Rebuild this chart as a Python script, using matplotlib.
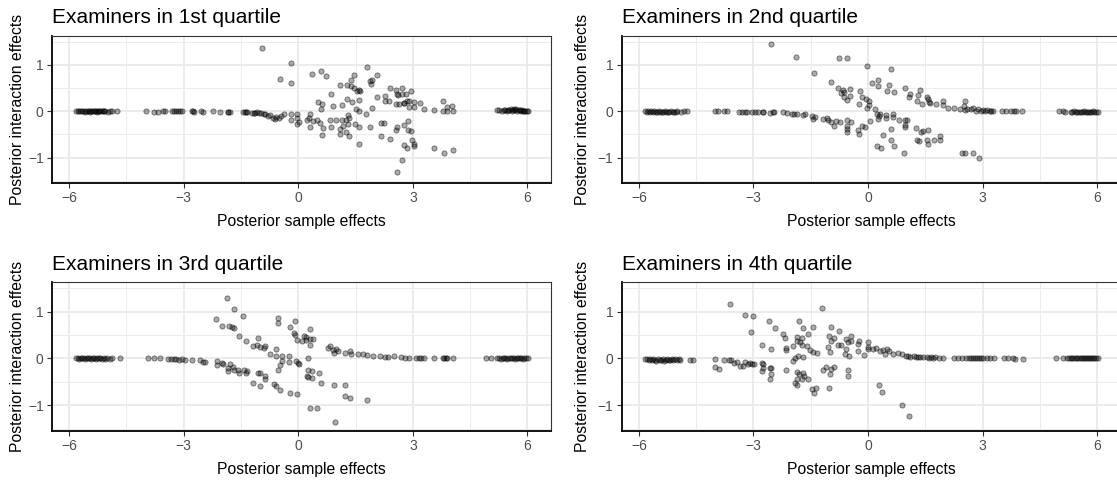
import matplotlib
matplotlib.use('Agg')
import matplotlib.pyplot as plt
from matplotlib.ticker import MultipleLocator

plt.rcParams['font.family'] = ['Liberation Sans', 'DejaVu Sans']

titles = ['Examiners in 1st quartile', 'Examiners in 2nd quartile',
          'Examiners in 3rd quartile', 'Examiners in 4th quartile']
x_label = 'Posterior sample effects'
y_label = 'Posterior interaction effects'

# ---------- 1st quartile ----------
q1_x = [
    # left cluster
    -5.83, -5.78, -5.74, -5.70, -5.66, -5.62, -5.58, -5.55, -5.52, -5.48,
    -5.45, -5.42, -5.39, -5.36, -5.33, -5.30, -5.27, -5.24, -5.21, -5.18,
    -5.15, -5.12, -5.09, -5.06, -4.99, -4.93, -4.87, -4.76,
    # along zero
    -4.00, -3.77, -3.68, -3.53, -3.50, -3.30, -3.25, -3.20, -3.15, -3.09,
    -3.04, -2.78, -2.75, -2.72, -2.55, -2.50, -2.22, -2.04, -1.85, -1.83,
    -1.80, -1.44, -1.40, -1.37, -1.34, -1.22, -1.17, -1.13, -1.08, -1.02,
    -0.98, -0.91, -0.86, -0.80, -0.73, -0.65, -0.60, -0.57, -0.51, -0.45,
    -0.38, -0.19, -0.03,
    # upper cloud
    -0.95, -0.19, -0.49, -0.19, 0.35, 0.59, 0.72, 1.80, 2.06, 1.46,
    1.37, 1.09, 1.27, 1.37, 1.45, 1.53, 1.60, 1.63, 1.91, 1.88,
    1.94, 2.06, 0.86, 0.53, 0.62, 0.59, 0.91, 1.14, 1.27, 1.40,
    1.60, 1.50, 1.60, 1.77, 1.94, 2.28, 2.39, 2.26, 2.38, 2.55,
    2.59, 2.71, 2.72, 2.82, 2.94, 2.55, 2.64, 2.76, 2.84, 2.91,
    3.04, 3.03, 3.19, 3.29, 3.55, 3.80, 3.80, 3.89, 3.89, 4.04,
    4.05, 2.91, 2.78, 2.60,
    # lower cloud
    -0.19, -0.02, -0.03, 0.03, 0.30, 0.27, 0.23, 0.31, 0.39, 0.49,
    0.58, 0.64, 0.61, 0.84, 0.86, 0.99, 1.10, 1.16, 1.09, 1.15,
    1.25, 1.30, 1.32, 1.29, 1.26, 1.34, 1.49, 1.59, 1.60, 1.87,
    2.16, 2.25, 2.16, 2.40, 2.56, 2.59, 2.76, 2.87, 2.88, 2.95,
    2.97, 3.02, 3.04, 2.78, 2.86, 3.55, 3.82, 4.05, 2.72, 2.58,
    # right cluster
    5.20, 5.27, 5.33, 5.38, 5.42, 5.46, 5.50, 5.53, 5.56, 5.59,
    5.62, 5.65, 5.68, 5.71, 5.74, 5.77, 5.80, 5.83, 5.86, 5.89,
    5.92, 5.95, 5.98, 6.02,
]
q1_y = [
    0.00, 0.00, 0.00, 0.00, 0.00, 0.00, -0.01, 0.00, 0.00, 0.00,
    -0.01, 0.00, 0.00, 0.00, 0.00, 0.00, -0.01, 0.00, 0.00, 0.00,
    0.00, 0.00, 0.00, 0.00, -0.01, 0.00, 0.00, 0.00,
    0.00, -0.01, -0.01, 0.01, 0.00, 0.00, 0.00, 0.00, 0.00, 0.00,
    0.00, 0.00, 0.00, -0.01, 0.00, -0.01, 0.00, -0.01, -0.01, -0.02,
    -0.02, -0.02, -0.02, -0.01, -0.01, -0.03, -0.03, -0.03, -0.02, -0.03,
    -0.03, -0.05, -0.06, -0.10, -0.09, -0.14, -0.16, -0.12, -0.14, -0.11,
    -0.05, -0.05, -0.05,
    1.36, 1.04, 0.70, 0.61, 0.80, 0.87, 0.76, 0.96, 0.78, 0.77,
    0.68, 0.57, 0.57, 0.55, 0.50, 0.43, 0.45, 0.43, 0.59, 0.66,
    0.68, 0.30, 0.36, 0.20, 0.15, 0.05, 0.12, 0.14, 0.26, 0.19,
    0.25, 0.05, 0.00, -0.07, 0.07, 0.33, 0.50, 0.22, 0.23, 0.46,
    0.37, 0.50, 0.37, 0.36, 0.43, 0.15, 0.16, 0.17, 0.21, 0.23,
    0.20, 0.10, 0.18, 0.05, 0.03, 0.23, 0.01, 0.01, 0.10, 0.12,
    0.01, 0.08, 0.18, 0.35,
    -0.20, -0.15, -0.28, -0.24, -0.07, -0.14, -0.20, -0.33, -0.21, -0.20,
    -0.26, -0.36, -0.52, -0.20, -0.34, -0.18, -0.39, -0.32, -0.49, -0.18,
    -0.20, -0.08, -0.14, -0.27, -0.45, -0.54, -0.27, -0.34, -0.71, -0.35,
    -0.25, -0.25, -0.54, -0.59, -0.40, -0.35, -0.30, -0.22, -0.41, -0.43,
    -0.62, -0.70, -0.75, -0.72, -0.80, -0.80, -0.91, -0.84, -1.05, -1.32,
    0.02, 0.02, 0.01, 0.02, 0.03, 0.01, 0.03, 0.02, 0.04, 0.01,
    0.03, 0.05, 0.02, 0.04, 0.01, 0.03, 0.02, 0.01, 0.02, 0.00,
    0.01, 0.00, 0.00, 0.00,
]

# ---------- 2nd quartile ----------
q2_x = [
    -5.85, -5.80, -5.76, -5.72, -5.68, -5.64, -5.60, -5.56, -5.52, -5.48,
    -5.44, -5.40, -5.36, -5.32, -5.28, -5.24, -5.20, -5.16, -5.12, -5.08,
    -5.04, -5.00, -4.90, -4.82, -4.73,
    -4.02, -3.93, -3.76, -3.69, -3.38, -3.29, -3.23, -3.16, -3.05, -2.97,
    -2.89, -2.76, -2.74, -2.57, -2.50, -2.46, -2.22, -2.13, -2.00, -1.95,
    -1.85, -1.71, -1.66, -1.46, -1.43, -1.40,
    # upper cloud
    -2.54, -1.89, -0.75, -0.54, -1.41, -0.98, -0.80, -0.66, -0.64, -0.48,
    -0.72, -0.62, -0.48, -0.54, -0.22, -0.16, -0.06, 0.02, 0.02, -0.25,
    -0.03, -0.02, 0.60, 0.11, 0.25, 0.26, 0.56, 0.50, 0.68, 0.96,
    1.09, 1.08, 1.36, 1.30, 1.55, 1.58, 1.60, 1.28, 1.41, 1.63,
    1.79, 1.96, 1.97,
    # lower cloud
    -1.18, -1.08, -1.04, -0.97, -0.89, -0.83, -0.73, -0.54, -0.46, -0.55,
    -0.54, -0.54, -0.26, -0.25, -0.16, -0.09, 0.04, 0.19, 0.24, 0.28,
    0.26, 0.32, 0.46, 0.46, 0.65, 0.66, 0.81, 0.96, 1.03, 0.96,
    0.96, 1.25, 1.39, 1.45, 1.58, 0.59, 0.59, 0.39, 0.68, 0.24,
    0.35, 0.94, 1.29, 1.34, 1.55, 1.57, 1.73, 1.89, 1.89, 2.46,
    2.54, 2.75, 2.89,
    # right arm along zero
    2.10, 2.25, 2.40, 2.54, 2.52, 2.54, 2.60, 2.69, 2.75, 2.82,
    2.88, 2.96, 3.00, 3.06, 3.12, 3.18, 3.22, 3.28, 3.51, 3.62,
    3.75, 3.82, 3.86, 4.02,
    # right cluster
    5.01, 5.10, 5.16, 5.30, 5.35, 5.40, 5.44, 5.48, 5.52, 5.56,
    5.60, 5.64, 5.68, 5.72, 5.76, 5.80, 5.84, 5.88, 5.92, 5.96,
    6.02,
]
q2_y = [
    0.00, -0.01, 0.00, -0.01, 0.00, -0.01, 0.00, -0.01, -0.01, 0.00,
    -0.01, -0.02, -0.01, 0.00, -0.01, -0.02, -0.01, 0.00, -0.01, -0.02,
    -0.01, 0.00, -0.01, 0.00, 0.00,
    0.00, 0.00, 0.00, 0.00, -0.01, -0.01, -0.01, -0.01, -0.02, -0.01,
    -0.02, -0.02, -0.02, -0.03, -0.02, -0.02, -0.02, -0.04, -0.06, -0.05,
    -0.06, -0.08, -0.07, -0.11, -0.16, -0.12,
    1.44, 1.16, 1.14, 1.14, 0.82, 0.62, 0.50, 0.45, 0.41, 0.47,
    0.39, 0.31, 0.33, 0.24, 0.43, 0.31, 0.26, 0.23, 0.14, 0.16,
    0.06, 0.98, 0.91, 0.61, 0.67, 0.54, 0.57, 0.44, 0.42, 0.50,
    0.36, 0.31, 0.46, 0.35, 0.31, 0.26, 0.19, 0.21, 0.16, 0.17,
    0.16, 0.21, 0.14,
    -0.16, -0.14, -0.20, -0.24, -0.31, -0.21, -0.24, -0.20, -0.24, -0.31,
    -0.38, -0.44, -0.40, -0.49, -0.31, -0.34, -0.21, 0.04, -0.06, -0.11,
    -0.16, -0.06, -0.09, -0.14, -0.07, -0.13, -0.20, -0.20, -0.18, -0.29,
    -0.34, -0.36, -0.44, -0.43, -0.40, -0.39, -0.61, -0.51, -0.74, -0.76,
    -0.80, -0.91, -0.63, -0.65, -0.61, -0.70, -0.63, -0.54, -0.63, -0.91,
    -0.91, -0.89, -1.00,
    0.07, 0.07, 0.05, 0.21, 0.11, 0.03, 0.05, 0.04, 0.06, 0.01,
    0.04, 0.01, 0.03, 0.01, 0.02, 0.01, 0.01, 0.01, 0.01, 0.00,
    0.00, 0.00, 0.00, 0.00,
    0.00, 0.00, -0.01, -0.01, -0.01, 0.00, -0.01, -0.01, -0.01, -0.01,
    -0.01, 0.00, -0.01, -0.01, -0.01, -0.01, -0.01, 0.00, -0.01, -0.01,
    -0.01,
]

# ---------- 3rd quartile ----------
q3_x = [
    -5.83, -5.78, -5.74, -5.70, -5.66, -5.62, -5.58, -5.54, -5.50, -5.46,
    -5.42, -5.38, -5.34, -5.30, -5.26, -5.22, -5.18, -5.14, -5.10, -5.05,
    -5.00, -4.94, -4.87, -4.67,
    -3.93, -3.77, -3.62, -3.40, -3.33, -3.26, -3.19, -3.12, -3.05, -2.97,
    -2.77, -2.57, -2.50, -2.44,
    # descending lower-left arm
    -2.13, -2.13, -2.00, -1.96, -1.84, -1.78, -1.83, -1.70, -1.68, -1.57,
    -1.54, -1.41, -1.37, -1.33, -1.06, -0.99, -0.88, -0.87, -1.19, -1.01,
    -0.64, -0.59, -0.48, -0.22, -0.03,
    # upper-left arm
    -1.86, -1.68, -1.44, -2.15, -2.00, -1.82, -1.74, -1.68, -1.56, -1.37,
    -1.05, -1.09, -1.19, -0.99, -0.87, -0.89, -0.74, -0.59, -0.58, -0.43,
    # centre
    -0.52, -0.52, -0.22, -0.09, -0.10, -0.08, -0.04, 0.14, 0.19, 0.09,
    0.20, 0.30, 0.38, 0.30, 0.30, 0.26, -0.54, -0.49, -0.43, -0.24,
    -0.23, -0.06, 0.00, 0.03, 0.25, 0.24, 0.26, 0.37, 0.37, 0.54,
    0.59, 0.93, 1.22, 1.22, 1.35, 1.79, 0.30, 0.49, 0.96,
    # right arm
    0.77, 0.83, 0.90, 0.93, 1.04, 0.98, 1.22, 1.36, 1.37, 1.57,
    1.70, 1.81, 1.96, 2.13, 2.26, 2.35, 2.52, 2.70, 2.80, 2.91,
    3.09, 3.15, 3.22, 3.30, 3.55, 3.78, 3.82, 3.86, 3.90, 4.05,
    # right cluster
    4.92, 5.05, 5.20, 5.25, 5.30, 5.35, 5.40, 5.44, 5.48, 5.52,
    5.56, 5.60, 5.64, 5.68, 5.72, 5.76, 5.80, 5.84, 5.88, 5.92,
    5.96, 6.02,
]
q3_y = [
    0.00, 0.00, -0.01, 0.00, 0.00, 0.00, -0.01, 0.00, 0.00, 0.00,
    -0.01, 0.00, 0.00, -0.01, 0.00, 0.00, 0.00, -0.01, 0.00, -0.01,
    0.00, -0.01, 0.00, 0.00,
    0.00, 0.00, 0.00, -0.01, -0.02, -0.01, -0.02, -0.03, -0.02, -0.03,
    -0.04, -0.04, -0.08, -0.08,
    -0.06, -0.15, -0.09, -0.13, -0.20, -0.13, -0.27, -0.18, -0.25, -0.24,
    -0.32, -0.24, -0.31, -0.28, -0.31, -0.32, -0.37, -0.45, -0.52, -0.60,
    -0.54, -0.60, -0.67, -0.74, -0.77,
    1.28, 1.05, 0.90, 0.85, 0.70, 0.70, 0.67, 0.64, 0.47, 0.36,
    0.44, 0.29, 0.27, 0.25, 0.27, 0.22, 0.09, 0.20, 0.04, 0.06,
    0.86, 0.75, 0.67, 0.79, 0.55, 0.50, 0.40, 0.48, 0.46, 0.38,
    0.39, 0.41, 0.42, 0.62, 0.29, 0.00, -0.25, -0.14, -0.06, -0.07,
    0.05, -0.05, -0.09, -0.13, -0.24, -0.37, -0.40, -0.27, -0.42, -0.32,
    -0.52, -0.57, -0.57, -0.81, -0.85, -0.89, -1.05, -1.05, -1.36,
    0.23, 0.27, 0.17, 0.11, 0.15, 0.21, 0.11, 0.16, 0.09, 0.09,
    0.09, 0.07, 0.06, 0.04, 0.02, 0.02, 0.04, 0.02, 0.01, 0.01,
    0.01, 0.01, 0.01, 0.01, 0.01, 0.00, 0.00, 0.00, 0.00, 0.00,
    0.01, 0.00, 0.00, 0.00, -0.01, 0.00, 0.00, 0.00, -0.01, 0.00,
    0.00, 0.00, 0.00, -0.01, 0.00, 0.00, 0.00, 0.00, -0.01, 0.00,
    0.00, 0.00,
]

# ---------- 4th quartile ----------
q4_x = [
    -5.83, -5.78, -5.74, -5.70, -5.66, -5.62, -5.58, -5.54, -5.50, -5.46,
    -5.42, -5.38, -5.34, -5.30, -5.26, -5.22, -5.18, -5.14, -5.10, -5.05,
    -5.00, -4.96, -4.92, -4.67, -4.59,
    # left part of band
    -4.00, -4.00, -3.91, -3.77, -3.65, -3.59, -3.52, -3.42, -3.35, -3.28,
    -3.22, -3.15, -3.09, -3.04, -2.98, -2.78, -2.76, -2.78, -2.74, -2.58,
    -2.54, -2.55, -2.58, -2.15, -1.85, -1.80, -1.70, -1.74, -1.68, -1.57,
    -1.85, -1.91, -1.87, -1.46, -1.37, -1.41, -1.02, -1.17, -1.09, -0.98,
    -0.90, -1.00, -0.52, -0.52, -1.97, -1.91, -1.83, -1.70,
    # upper cloud
    -3.61, -3.22, -3.00, -3.06, -2.59, -2.45, -2.22, -2.17, -2.77, -2.54,
    -1.80, -1.70, -1.57, -1.43, -1.85, -1.85, -1.78, -1.74, -1.97, -2.15,
    -2.15, -1.74, -1.61, -1.52, -1.43, -1.35, -1.20, -0.98, -0.76, -1.02,
    -0.90, -0.96, -1.04, -1.00, -0.78, -0.71, -0.57, -0.45, -0.52, -0.46,
    -0.57, -0.61, -0.50, -0.24, -0.26, -0.26, 0.00, 0.00, 0.00, -0.11,
    0.13, 0.20, 0.30, 0.39, 0.50, 0.55, 0.43, 0.65, 0.78, 0.89,
    # lower right outliers
    0.28, 0.37, 0.89, 1.07,
    # right arm
    1.00, 1.05, 1.10, 1.20, 1.25, 1.30, 1.35, 1.45, 1.55, 1.60,
    1.65, 1.70, 1.75, 1.85, 1.95, 2.25, 2.35, 2.45, 2.55, 2.65,
    2.70, 2.75, 2.80, 2.85, 2.90, 2.95, 3.00, 3.10, 3.20, 3.30,
    3.55, 3.65, 3.80, 3.85, 4.05,
    # right cluster
    4.92, 5.10, 5.20, 5.25, 5.30, 5.35, 5.40, 5.44, 5.48, 5.52,
    5.56, 5.60, 5.64, 5.68, 5.72, 5.76, 5.80, 5.84, 5.88, 5.92,
    5.96, 6.02,
]
q4_y = [
    -0.02, -0.01, -0.03, -0.02, -0.04, -0.02, -0.03, -0.05, -0.02, -0.03,
    -0.04, -0.02, -0.06, -0.03, -0.02, -0.04, -0.03, -0.02, -0.03, -0.02,
    -0.04, -0.02, -0.03, -0.04, -0.03,
    -0.01, -0.18, -0.22, -0.04, -0.04, -0.04, -0.09, -0.07, -0.16, -0.16,
    -0.08, -0.11, -0.09, -0.13, -0.11, -0.09, -0.13, -0.27, -0.20, -0.20,
    -0.20, -0.34, -0.45, -0.25, -0.29, -0.34, -0.32, -0.44, -0.38, -0.44,
    -0.45, -0.52, -0.56, -0.65, -0.63, -0.75, -0.63, -0.24, -0.18, -0.22,
    -0.18, -0.34, -0.24, -0.37, -0.06, 0.01, 0.05, 0.02,
    1.15, 0.92, 0.90, 0.57, 0.79, 0.64, 0.53, 0.44, 0.29, 0.19,
    0.79, 0.64, 0.53, 0.66, 0.46, 0.36, 0.34, 0.44, 0.27, 0.23,
    0.17, 0.29, 0.27, 0.18, 0.14, 0.12, 1.07, 0.66, 0.59, 0.48,
    0.43, 0.37, 0.24, 0.14, 0.28, 0.28, 0.42, 0.47, 0.34, 0.36,
    0.21, 0.09, 0.06, 0.37, 0.30, 0.15, 0.35, 0.25, 0.19, 0.08,
    0.19, 0.23, 0.16, 0.17, 0.19, 0.15, 0.09, 0.09, 0.11, 0.09,
    -0.57, -0.72, -1.00, -1.23,
    0.05, 0.04, 0.03, 0.04, 0.03, 0.02, 0.03, 0.02, 0.02, 0.01,
    0.02, 0.01, 0.02, 0.01, 0.01, 0.01, 0.00, 0.01, 0.00, 0.00,
    0.00, 0.01, 0.00, 0.00, 0.00, 0.00, 0.00, 0.00, 0.00, 0.00,
    0.00, 0.00, 0.00, -0.01, -0.01,
    0.00, 0.00, 0.00, 0.00, 0.00, 0.00, 0.00, 0.00, 0.00, 0.00,
    0.00, 0.00, 0.00, 0.00, 0.00, 0.00, 0.00, 0.00, 0.00, 0.00,
    0.00, 0.00,
]

panels = [(q1_x, q1_y), (q2_x, q2_y), (q3_x, q3_y), (q4_x, q4_y)]

W, H = 1117, 482
fig = plt.figure(figsize=(W / 100, H / 100), dpi=100)

# panel boxes in pixels: left, top, right, bottom
boxes = [(52, 35.5, 551, 182.7), (621.7, 35.5, 1121, 182.7),
         (52, 282, 551, 430.5), (621.7, 282, 1121, 430.5)]

for i, ((xs, ys), (l, t, r, b)) in enumerate(zip(panels, boxes)):
    assert len(xs) == len(ys), (i, len(xs), len(ys))
    ax = fig.add_axes([l / W, 1 - b / H, (r - l) / W, (b - t) / H])
    ax.scatter(xs, ys, s=14, facecolor=(0, 0, 0, 0.33),
               edgecolor=(0, 0, 0, 0.5), linewidths=0.6, zorder=3)
    ax.set_xlim(-6.45, 6.62)
    ax.set_ylim(-1.54, 1.63)
    ax.xaxis.set_major_locator(MultipleLocator(3))
    ax.xaxis.set_minor_locator(MultipleLocator(1.5))
    ax.yaxis.set_major_locator(MultipleLocator(1))
    ax.yaxis.set_minor_locator(MultipleLocator(0.5))
    ax.grid(True, which='major', color='#EBEBEB', lw=1.4, zorder=0)
    ax.grid(True, which='minor', color='#EBEBEB', lw=0.7, zorder=0)
    ax.set_axisbelow(True)
    ax.tick_params(which='major', length=3.5, width=0.8, color='#333333',
                   labelsize=10, labelcolor='#4D4D4D', pad=2.5)
    ax.tick_params(which='minor', length=0)
    for side in ['top', 'right']:
        ax.spines[side].set_color('#333333')
        ax.spines[side].set_linewidth(0.8)
    for side in ['left', 'bottom']:
        ax.spines[side].set_color('black')
        ax.spines[side].set_linewidth(1.3)
    ax.set_title(titles[i], loc='left', fontsize=15, pad=9)
    ax.set_xlabel(x_label, fontsize=11.3)
    ax.set_ylabel(y_label, fontsize=11.3)
    ax.xaxis.set_label_coords(0.5, -0.215)
    ax.yaxis.set_label_coords(-0.055 if i % 2 == 0 else -0.064, 0.5)

fig.savefig('out.png', dpi=100)
